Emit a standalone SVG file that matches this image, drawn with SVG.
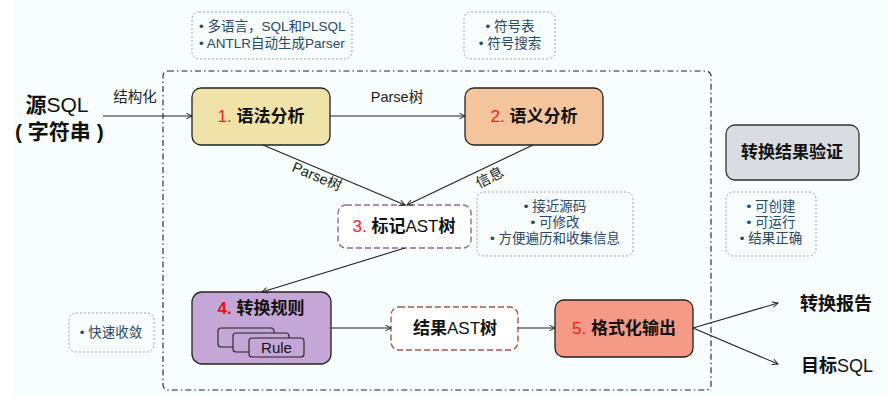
<svg xmlns="http://www.w3.org/2000/svg" width="888" height="397" viewBox="0 0 888 397">
<defs>
<style>
text{font-family:"Liberation Sans","Noto Sans CJK SC",sans-serif;}
.tip{fill:none;stroke:#9aa3ab;stroke-width:1;stroke-dasharray:2 2;}
.tt{font-size:13.5px;fill:#2a4868;}
.node{stroke:#222;stroke-width:1.3;}
.nt{font-size:17px;fill:#111;}
.b{font-weight:bold;}
.red{fill:#ff1a1a;font-weight:normal;}
.conn{fill:none;stroke:#222;stroke-width:1.1;marker-end:url(#ah);}
.lbl{font-size:14.5px;fill:#222;}
</style>
<marker id="ah" viewBox="0 0 10 10" refX="9" refY="5" markerWidth="7" markerHeight="7" orient="auto" markerUnits="userSpaceOnUse">
<path d="M1,1 L9,5 L1,9" fill="none" stroke="#222" stroke-width="1.4"/>
</marker>
</defs>
<rect x="0" y="0" width="888" height="397" fill="#ffffff"/>
<rect x="13" y="0" width="875" height="397" fill="#f8fdfd"/>

<rect x="163" y="71" width="548" height="319" rx="5" fill="none" stroke="#222" stroke-width="1.1" stroke-dasharray="6 3 1.5 3"/>

<g id="tip1">
<rect class="tip" x="192" y="12" width="160" height="47" rx="7"/>
<text class="tt" x="199" y="31">• 多语言，SQL和PLSQL</text>
<text class="tt" x="199" y="48">• ANTLR自动生成Parser</text>
</g>
<g id="tip2">
<rect class="tip" x="464" y="12" width="91" height="47" rx="7"/>
<text class="tt" x="510" y="31" text-anchor="middle">• 符号表</text>
<text class="tt" x="510" y="48" text-anchor="middle">• 符号搜索</text>
</g>
<g id="tip3">
<rect class="tip" x="477" y="192" width="156" height="64" rx="7"/>
<text class="tt" x="555" y="211" text-anchor="middle">• 接近源码</text>
<text class="tt" x="555" y="227" text-anchor="middle">• 可修改</text>
<text class="tt" x="555" y="243" text-anchor="middle">• 方便遍历和收集信息</text>
</g>
<g id="tip4">
<rect class="tip" x="726" y="192" width="90" height="64" rx="7"/>
<text class="tt" x="771" y="211" text-anchor="middle">• 可创建</text>
<text class="tt" x="771" y="227" text-anchor="middle">• 可运行</text>
<text class="tt" x="771" y="243" text-anchor="middle">• 结果正确</text>
</g>
<g id="tip5">
<rect class="tip" x="69" y="313" width="85" height="39" rx="7"/>
<text class="tt" x="111" y="337" text-anchor="middle">• 快速收敛</text>
</g>

<g id="source">
<text x="57" y="112" text-anchor="middle" style="font-size:21px;fill:#111"><tspan class="b">源</tspan>SQL</text>
<text x="15" y="139" class="b" style="font-size:21px;fill:#111">( 字符串 )</text>
</g>

<g id="n1">
<rect class="node" x="192" y="88" width="138" height="57" rx="9" fill="#f0e3a9"/>
<text class="nt" x="261" y="122" text-anchor="middle"><tspan class="red">1. </tspan><tspan class="b">语法分析</tspan></text>
</g>
<g id="n2">
<rect class="node" x="465" y="88" width="138" height="57" rx="9" fill="#f4c59d"/>
<text class="nt" x="534" y="122" text-anchor="middle"><tspan class="red">2. </tspan><tspan class="b">语义分析</tspan></text>
</g>
<g id="verify">
<rect x="726" y="125" width="133" height="55" rx="9" fill="#d9dce0" stroke="#333" stroke-width="1.3"/>
<text class="nt b" x="792" y="158" text-anchor="middle">转换结果验证</text>
</g>
<g id="n3">
<rect x="338" y="205" width="133" height="43" rx="8" fill="#ffffff" stroke="#8a6a9e" stroke-width="1.4" stroke-dasharray="6 3"/>
<text class="nt" x="404" y="232" text-anchor="middle"><tspan class="red">3. </tspan><tspan class="b">标记</tspan>AST<tspan class="b">树</tspan></text>
</g>
<g id="n4">
<rect class="node" x="192" y="292" width="139" height="72" rx="10" fill="#c4a7d7"/>
<text class="nt" x="261" y="314" text-anchor="middle"><tspan class="red" style="font-weight:bold;fill:#ee1111">4. </tspan><tspan class="b">转换规则</tspan></text>
<rect x="218" y="328" width="56" height="19" rx="3" fill="#c4a7d7" stroke="#222" stroke-width="1.1"/>
<rect x="233" y="333" width="56" height="19" rx="3" fill="#c4a7d7" stroke="#222" stroke-width="1.1"/>
<rect x="249" y="338" width="55" height="19" rx="3" fill="#c4a7d7" stroke="#222" stroke-width="1.1"/>
<text x="276.5" y="353" text-anchor="middle" style="font-size:15px;fill:#111">Rule</text>
</g>
<g id="result">
<rect x="391" y="307" width="127" height="43" rx="8" fill="#ffffff" stroke="#a4554a" stroke-width="1.4" stroke-dasharray="6 3"/>
<text class="nt" x="455" y="334" text-anchor="middle"><tspan class="b">结果</tspan>AST<tspan class="b">树</tspan></text>
</g>
<g id="n5">
<rect class="node" x="555" y="300" width="138" height="57" rx="9" fill="#f49a86"/>
<text class="nt" x="624" y="334" text-anchor="middle"><tspan class="red">5. </tspan><tspan class="b">格式化输出</tspan></text>
</g>
<g id="out1">
<text x="800" y="310" class="b" style="font-size:18px;fill:#111">转换报告</text>
</g>
<g id="out2">
<text x="801" y="372" style="font-size:18px;fill:#111"><tspan class="b">目标</tspan>SQL</text>
</g>

<g id="connectors">
<line class="conn" x1="103" y1="116" x2="192" y2="116"/>
<line class="conn" x1="330" y1="116" x2="465" y2="116"/>
<line class="conn" x1="263" y1="145" x2="405" y2="205"/>
<line class="conn" x1="533" y1="145" x2="407" y2="205"/>
<line class="conn" x1="405" y1="248" x2="262" y2="292"/>
<line class="conn" x1="331" y1="328" x2="391" y2="328"/>
<line class="conn" x1="518" y1="328" x2="555" y2="328"/>
<line class="conn" x1="693" y1="328" x2="778" y2="303"/>
<line class="conn" x1="693" y1="328" x2="778" y2="364"/>
<text class="lbl" x="135" y="102" text-anchor="middle">结构化</text>
<text class="lbl" x="397" y="102" text-anchor="middle">Parse树</text>
<text class="lbl" x="315" y="181" text-anchor="middle" transform="rotate(23 315 181)">Parse树</text>
<text class="lbl" x="492" y="182" text-anchor="middle" transform="rotate(-27 492 182)">信息</text>
</g>
</svg>
